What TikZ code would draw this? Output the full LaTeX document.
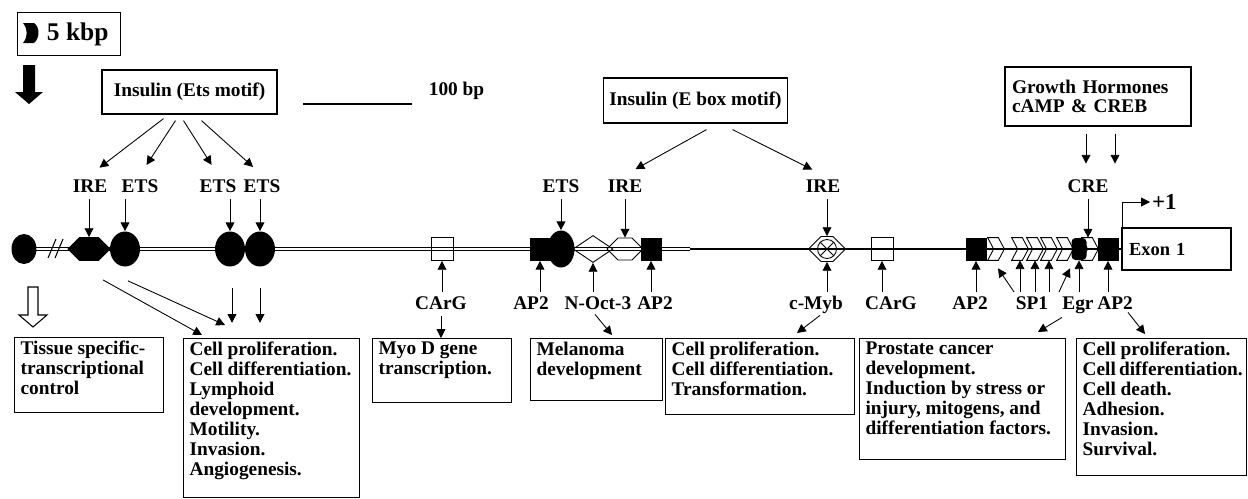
\documentclass[tikz,border=0pt]{standalone}
\usepackage{fontspec}
\setmainfont{Liberation Serif}
\usetikzlibrary{arrows.meta,shapes.geometric,shapes.symbols,calc,backgrounds}

\newcommand{\boxlines}[3]{\parbox[t][#2][t]{#1}{\raggedright\hyphenpenalty=10000\exhyphenpenalty=10000 #3}}

\tikzset{
  lbl/.style={font=\bfseries\fontsize{11}{12}\selectfont, inner sep=2pt, text height=7.5pt, text depth=2pt, anchor=base},
  infobox/.style={draw, line width=0.7pt, anchor=north west, inner xsep=0.12cm, inner ysep=0.06cm, font=\bfseries\fontsize{11}{11.4}\selectfont},
  titlebox/.style={draw, line width=0.7pt, font=\bfseries\fontsize{11}{12}\selectfont},
  arr/.style={-{Triangle[length=5pt,width=5pt]}, line width=0.5pt},
  blk/.style={rectangle, fill=black, inner sep=0pt, minimum width=0.42cm, minimum height=0.46cm},
  opensq/.style={rectangle, draw, line width=0.5pt, inner sep=0pt, minimum width=0.44cm, minimum height=0.46cm},
  blob/.style={ellipse, fill=black, inner sep=0pt, minimum width=0.6cm, minimum height=0.7cm},
  hexa/.style={signal, signal to=east and west, draw, line width=0.5pt, inner sep=0pt},
  chev/.style={rectangle, inner sep=0pt, minimum width=0.32cm, minimum height=0.44cm}
}

\begin{document}
\begin{tikzpicture}[x=0.02cm, y=-0.02cm]
\useasboundingbox (0,0) rectangle (1248,498);

% Rows
\def\LY{249};
\def\LA{192};
\def\LB{309};

% Header: 5 kbp and scale
\node[titlebox, font=\bfseries\fontsize{14.5}{16}\selectfont, minimum width=2.06cm, minimum height=0.86cm, inner sep=0pt] (kbp) at (69,34) {\hspace*{0.35cm}5 kbp};
\fill (23,23) -- (34,23) .. controls (40,27) and (40,38) .. (34,43) -- (23,43) .. controls (28,37) and (28,29) .. (23,23) -- cycle;
\fill (23,65) -- (35,65) -- (35,92) -- (43,92) -- (29,104) -- (15,92) -- (23,92) -- cycle;
\draw[line width=0.7pt] (303,104) -- (412,104);
\node[lbl, anchor=base west] (scale) at (425,95) {100 bp};

% Factor boxes
\node[titlebox, minimum width=3.5cm, minimum height=0.88cm] (insEts) at (189.5,92) {Insulin (Ets motif)};
\node[titlebox, minimum width=3.62cm, minimum height=0.9cm] (insE) at (695.5,100.5) {Insulin (E box motif)};
\node[titlebox, font=\bfseries\fontsize{11}{10.5}\selectfont, minimum width=3.72cm, minimum height=1.18cm, text width=3.44cm, align=left] (growth) at (1098,96.5) {Growth Hormones\\cAMP \& CREB};
\node[titlebox, font=\bfseries\fontsize{10.5}{12}\selectfont, minimum width=2.18cm, minimum height=0.84cm, text width=1.9cm, align=left] (exon) at (1176.5,249) {Exon 1};

% Promoter elements
\node[blob, minimum width=0.5cm, minimum height=0.6cm] (ellA) at (24,\LY) {};
\node[hexa, fill=black, minimum width=0.84cm, minimum height=0.46cm] (hexA) at (89,\LY) {};
\node[blob] (ellB) at (125,\LY) {};
\node[blob] (ellC) at (230,\LY) {};
\node[blob] (ellD) at (260,\LY) {};
\node[opensq] (sq1) at (442,\LY) {};
\node[blk] (blk1) at (540,\LY) {};
\node[blob, minimum width=0.54cm, minimum height=0.74cm] (ellE) at (561,\LY) {};
\node[diamond, draw, line width=0.5pt, inner sep=0pt, minimum width=0.8cm, minimum height=0.54cm] (dia) at (593,\LY) {};
\node[hexa, minimum width=0.72cm, minimum height=0.44cm] (hexB) at (625,\LY) {};
\node[blk] (blk2) at (651,\LY) {};
\node[hexa, minimum width=0.74cm, minimum height=0.5cm] (hexC) at (827,\LY) {};
\node[circle, draw, line width=0.5pt, inner sep=0pt, minimum size=0.38cm] (mybX) at (hexC) {};
\draw[line width=0.5pt] (mybX.45) -- (mybX.225) (mybX.135) -- (mybX.315);
\node[opensq] (sq2) at (882,\LY) {};
\node[blk] (blk3) at (976,\LY) {};
\foreach \n/\x in {1/996,2/1020,3/1035,4/1049,5/1065,6/1090}
{\node[chev] (chev\n) at (\x,\LY) {};
\draw[line width=0.5pt, fill=white, fill opacity=0] (chev\n.north west) -- ([xshift=-0.12cm]chev\n.north east) -- (chev\n.east)
  -- ([xshift=-0.12cm]chev\n.south east) -- (chev\n.south west) -- ([xshift=0.12cm]chev\n.west) -- cycle;}
\node[fill=black, rounded corners=0.08cm, inner sep=0pt, minimum width=0.3cm, minimum height=0.44cm] (egrS) at (1079,\LY) {};
\node[blk] (blk4) at (1108,\LY) {};

% DNA line
\coordinate (dblend) at (690,\LY);
\begin{scope}[on background layer]
\draw[double, double distance=1.2pt, line width=0.45pt] (ellA.center) -- (dblend);
\draw[line width=0.8pt] (dblend) -- (exon.west);
\end{scope}
\draw[line width=0.6pt] (48,258) -- (56,239) (55,258) -- (63,239);

% Start site
\node[font=\bfseries\fontsize{13}{14}\selectfont, inner sep=1pt, anchor=west] (plus) at (1150,202) {+1};
\draw[arr] ($(exon.north west)+(1,0)$) |- (plus.west);

% Labels above the line
\node[lbl] (ire1) at (90,\LA) {IRE};
\node[lbl] (ets1) at (140,\LA) {ETS};
\node[lbl] (ets2) at (218,\LA) {ETS};
\node[lbl] (ets3) at (262,\LA) {ETS};
\node[lbl] (ets4) at (561,\LA) {ETS};
\node[lbl] (ire2) at (625,\LA) {IRE};
\node[lbl] (ire3) at (823,\LA) {IRE};
\node[lbl] (cre) at (1088,\LA) {CRE};

\draw[arr, shorten >=0.24cm] ($(insEts.south)+(-26,4)$) -- (ire1.north);
\draw[arr, shorten >=0.24cm] ($(insEts.south)+(-14,6)$) -- (ets1.north);
\draw[arr, shorten >=0.24cm] ($(insEts.south)+(-6,6)$) -- (ets2.north);
\draw[arr, shorten >=0.24cm] ($(insEts.south)+(12,6)$) -- (ets3.north);
\draw[arr, shorten >=0.24cm] ($(insE.south)+(11,6)$) -- (ire2.north);
\draw[arr, shorten >=0.24cm] ($(insE.south)+(37,6)$) -- (ire3.north);
\draw[arr] ($(growth.south)+(-12,7)$) -- ++(0,30);
\draw[arr] ($(growth.south)+(17,7)$) -- ++(0,30);

\foreach \l/\s in {ire1/hexA, ets1/ellB, ets2/ellC, ets3/ellD, ets4/ellE, ire2/hexB, ire3/hexC}
  \draw[arr] (\l.south -| \s.north) -- (\s.north);
\draw[arr] (cre.south) -- (cre.south |- egrS.north);

% Labels below the line
\node[lbl] (carg1) at (441,\LB) {CArG};
\node[lbl] (ap2a) at (531,\LB) {AP2};
\node[lbl] (noct) at (598,\LB) {N-Oct-3};
\node[lbl] (ap2b) at (655,\LB) {AP2};
\node[lbl] (cmyb) at (816,\LB) {c-Myb};
\node[lbl] (carg2) at (891,\LB) {CArG};
\node[lbl] (ap2c) at (970,\LB) {AP2};
\node[lbl] (sp1) at (1032,\LB) {SP1};
\node[lbl] (egr) at (1078,\LB) {Egr};
\node[lbl] (ap2d) at (1115,\LB) {AP2};

\foreach \l/\s in {carg1/sq1, ap2a/blk1, noct/dia, ap2b/blk2, cmyb/hexC, carg2/sq2, ap2c/blk3, sp1/chev2, sp1/chev3, sp1/chev4, egr/egrS, ap2d/blk4}
  \draw[arr] (\l.north -| \s.south) -- (\s.south);
\draw[arr] ($(sp1.north west)+(2,0)$) -- ($(chev1.south)+(2,8)$);
\draw[arr] ($(sp1.north east)+(7,0)$) -- ($(chev5.south)+(5,8)$);

% Function boxes
\node[infobox] (tissue) at (14,337) {\boxlines{2.74cm}{1.38cm}{Tissue specific-\\transcriptional\\control}};
\node[infobox] (prolif) at (183,338) {\boxlines{3.28cm}{3.06cm}{Cell proliferation.\\Cell~differentiation.\\Lymphoid\\development.\\Motility.\\Invasion.\\Angiogenesis.}};
\node[infobox] (myod) at (372,338) {\boxlines{2.54cm}{1.16cm}{Myo D gene\\transcription.}};
\node[infobox] (melan) at (530,338) {\boxlines{2.40cm}{1.12cm}{Melanoma\\development}};
\node[infobox] (mybbox) at (665,338) {\boxlines{3.54cm}{1.40cm}{Cell proliferation.\\Cell differentiation.\\Transformation.}};
\node[infobox] (prost) at (859,338) {\boxlines{3.88cm}{2.30cm}{Prostate cancer\\development.\\Induction by stress or\\injury, mitogens, and\\differentiation factors.}};
\node[infobox] (surv) at (1076,338) {\boxlines{3.16cm}{2.62cm}{Cell proliferation.\\Cell~differentiation.\\Cell death.\\Adhesion.\\Invasion.\\Survival.}};

% Arrows to function boxes
\draw[line width=0.6pt] (28,287) -- (38,287) -- (38,315) -- (47,315) -- (33,327) -- (19,315) -- (28,315) -- cycle;
\draw[arr] ($(hexA.south)+(14,19)$) -- ($(prolif.north west)+(19,-3)$);
\draw[arr] ($(ellB.south)+(3,14)$) -- ($(prolif.north west)+(42,-13)$);
\draw[arr] ($(ellC.south)+(2,21)$) -- ++(0,35);
\draw[arr] ($(ellD.south)+(0,21)$) -- ++(0,35);
\draw[arr] (carg1.south) -- (carg1.south |- myod.north);
\draw[arr] ($(noct.south)+(-3,-2)$) -- ($(melan.north west)+(82,-3)$);
\draw[arr] ($(cmyb.south)+(4,-1)$) -- ($(mybbox.north west)+(132,-5)$);
\draw[arr] ($(egr.south)+(-16,1)$) -- ($(prost.north west)+(179,-6)$);
\draw[arr] ($(ap2d.south)+(13,-4)$) -- ($(surv.north west)+(69,-4)$);
\end{tikzpicture}
\end{document}
